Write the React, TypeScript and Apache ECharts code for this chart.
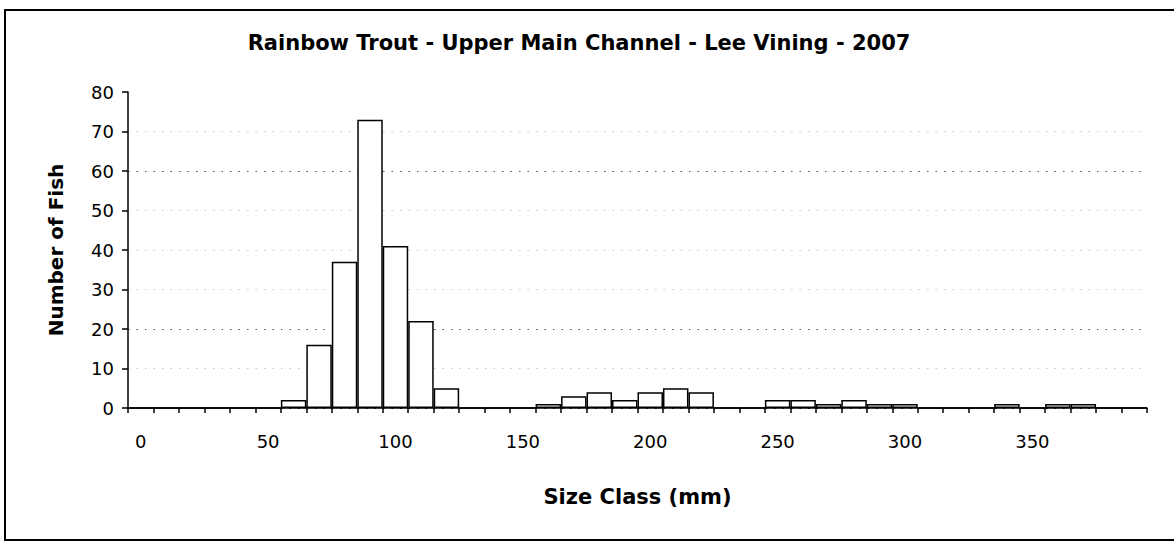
import React, { useEffect, useRef } from "react";
import * as echarts from "echarts";

const sizeClasses: string[] = [
  "0", "10", "20", "30", "40", "50", "60", "70", "80", "90",
  "100", "110", "120", "130", "140", "150", "160", "170", "180", "190",
  "200", "210", "220", "230", "240", "250", "260", "270", "280", "290",
  "300", "310", "320", "330", "340", "350", "360", "370", "380", "390",
];
const fishCounts: number[] = [
  0, 0, 0, 0, 0, 0, 2, 16, 37, 73,
  41, 22, 5, 0, 0, 0, 1, 3, 4, 2,
  4, 5, 4, 0, 0, 2, 2, 1, 2, 1,
  1, 0, 0, 0, 1, 0, 1, 1, 0, 0,
];
const titleText = "Rainbow Trout - Upper Main Channel - Lee Vining - 2007";
const xName = "Size Class (mm)";
const yName = "Number of Fish";

const FONT = "'DejaVu Sans', 'Liberation Sans', Arial, sans-serif";

export default function App() {
  const ref = useRef<HTMLDivElement>(null);
  useEffect(() => {
    if (!ref.current) return;
    const chart = echarts.init(ref.current, null, { renderer: "svg" });
    chart.setOption({
      animation: false,
      backgroundColor: "#ffffff",
      title: {
        text: titleText,
        left: 574,
        top: 27,
        textAlign: "center",
        textStyle: { fontFamily: FONT, fontSize: 21, fontWeight: "bold", color: "#000" },
      },
      graphic: [
        {
          type: "polyline",
          shape: { points: [[1200, 10], [5, 10], [5, 540], [1200, 540]] },
          style: { fill: "none", stroke: "#000", lineWidth: 2 },
          silent: true,
        },
      ],
      grid: { left: 128, right: 27, top: 92, bottom: 136, containLabel: false },
      xAxis: {
        type: "category",
        data: sizeClasses,
        boundaryGap: true,
        name: xName,
        nameLocation: "middle",
        nameGap: 78,
        nameTextStyle: { fontFamily: FONT, fontSize: 21, fontWeight: "bold", color: "#000" },
        axisLine: { show: true, lineStyle: { color: "#000", width: 1.5 } },
        axisTick: { show: true, interval: 0, length: 5, alignWithLabel: false, lineStyle: { color: "#000", width: 1.5 } },
        axisLabel: { interval: 4, margin: 24, fontFamily: FONT, fontSize: 18, color: "#000" },
        splitLine: { show: false },
      },
      yAxis: {
        type: "value",
        min: 0,
        max: 80,
        interval: 10,
        name: yName,
        nameLocation: "middle",
        nameRotate: 90,
        nameGap: 62,
        nameTextStyle: { fontFamily: FONT, fontSize: 20, fontWeight: "bold", color: "#000" },
        axisLine: { show: true, lineStyle: { color: "#000", width: 1.5 } },
        axisTick: { show: true, length: 6, lineStyle: { color: "#000", width: 1.5 } },
        axisLabel: { margin: 14, fontFamily: FONT, fontSize: 18, color: "#000" },
        splitLine: {
          show: true,
          lineStyle: {
            type: [1.5, 7],
            width: 1,
            color: ["#000", "#c8c8c8", "#555", "#c8c8c8", "#c8c8c8", "#c8c8c8", "#555", "#c8c8c8", "rgba(0,0,0,0)"],
          },
        },
      },
      series: [
        {
          type: "bar",
          data: fishCounts,
          barCategoryGap: "0%",
          barGap: "0%",
          itemStyle: { color: "#ffffff", borderColor: "#000", borderWidth: 1.5 },
        },
      ],
    });
    return () => chart.dispose();
  }, []);
  return (
    <div
      ref={ref}
      style={{ position: "absolute", left: 0, top: 0, width: 1174, height: 544, background: "#fff" }}
    />
  );
}
